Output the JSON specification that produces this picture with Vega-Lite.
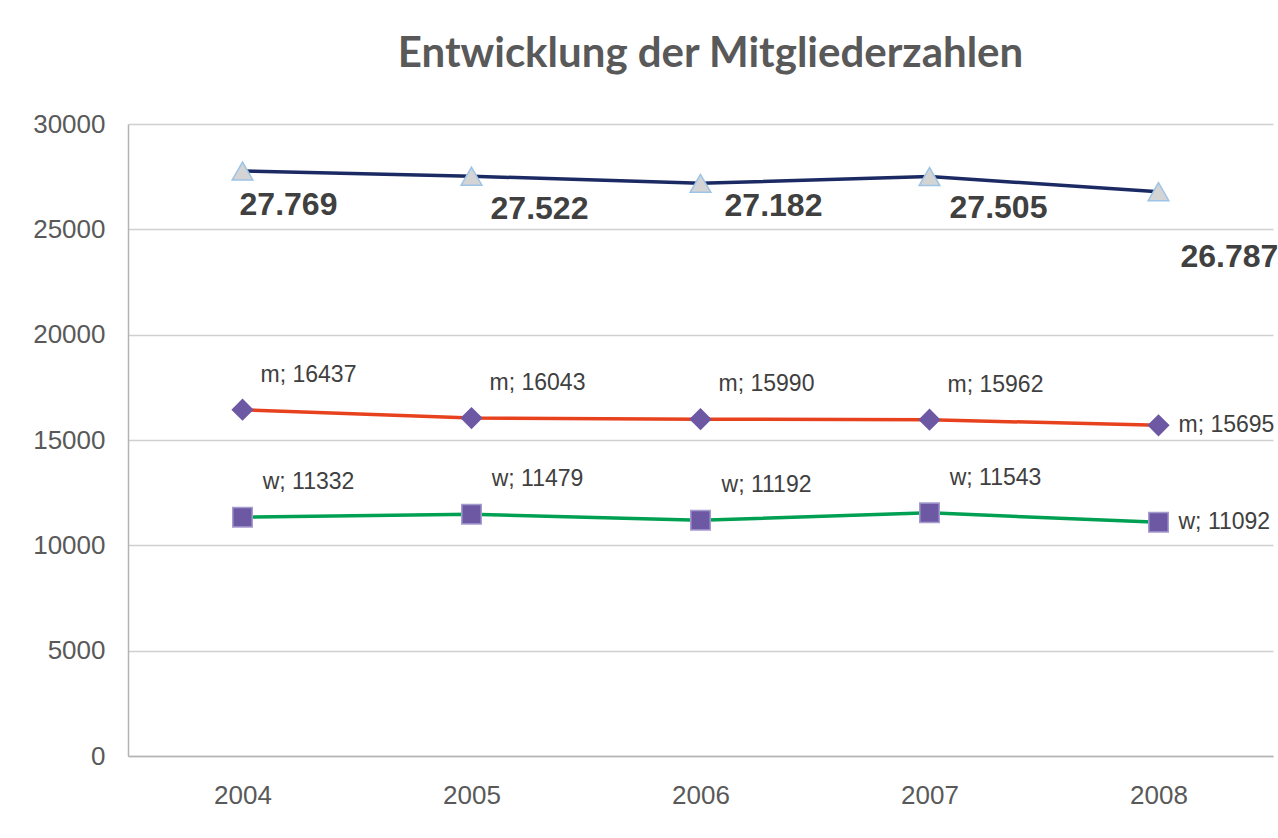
{
  "$schema": "https://vega.github.io/schema/vega-lite/v6.json",
  "autosize": {"type": "none"},
  "width": 1145,
  "height": 632,
  "padding": {"left": 128, "top": 124, "right": 5, "bottom": 82},
  "background": "#ffffff",
  "config": {
    "locale": {"number": {"decimal": ",", "thousands": ".", "grouping": [3], "currency": ["", " €"]}},
    "view": {"stroke": null},
    "font": "Liberation Sans"
  },
  "title": {
    "text": "Entwicklung der Mitgliederzahlen",
    "font": "Lato",
    "fontWeight": "bold",
    "fontSize": 42,
    "color": "#595959",
    "anchor": "middle",
    "frame": "group",
    "baseline": "alphabetic",
    "offset": 57,
    "dx": 10,
    "dy": 55
  },
  "data": {
    "values": [
      {"year": "2004", "series": "gesamt", "value": 27769},
      {"year": "2005", "series": "gesamt", "value": 27522},
      {"year": "2006", "series": "gesamt", "value": 27182},
      {"year": "2007", "series": "gesamt", "value": 27505},
      {"year": "2008", "series": "gesamt", "value": 26787},
      {"year": "2004", "series": "m", "value": 16437},
      {"year": "2005", "series": "m", "value": 16043},
      {"year": "2006", "series": "m", "value": 15990},
      {"year": "2007", "series": "m", "value": 15962},
      {"year": "2008", "series": "m", "value": 15695},
      {"year": "2004", "series": "w", "value": 11332},
      {"year": "2005", "series": "w", "value": 11479},
      {"year": "2006", "series": "w", "value": 11192},
      {"year": "2007", "series": "w", "value": 11543},
      {"year": "2008", "series": "w", "value": 11092}
    ]
  },
  "encoding": {
    "x": {
      "field": "year", "type": "ordinal",
      "scale": {"type": "point", "padding": 0.5},
      "axis": {
        "title": null, "labelAngle": 0, "ticks": false, "grid": false,
        "domainColor": "#b3b3b3", "domainWidth": 1.5,
        "labelFont": "Liberation Sans", "labelFontSize": 26, "labelColor": "#595959",
        "labelPadding": 26
      }
    },
    "y": {
      "field": "value", "type": "quantitative",
      "scale": {"domain": [0, 30000], "nice": false},
      "axis": {
        "title": null, "values": [0, 5000, 10000, 15000, 20000, 25000, 30000],
        "format": "d", "ticks": false,
        "domainColor": "#b3b3b3", "domainWidth": 1.5,
        "gridColor": "#d0d0d0", "gridWidth": 1.5,
        "labelFont": "Liberation Sans", "labelFontSize": 26, "labelColor": "#595959",
        "labelPadding": 23
      }
    }
  },
  "layer": [
    {
      "mark": {"type": "line", "strokeWidth": 3.5},
      "encoding": {
        "color": {
          "field": "series", "type": "nominal", "legend": null,
          "scale": {"domain": ["gesamt", "m", "w"], "range": ["#1b2a63", "#e8411d", "#00a052"]}
        }
      }
    },
    {
      "mark": {"type": "point", "filled": true, "opacity": 1, "strokeWidth": 1.5},
      "encoding": {
        "shape": {
          "field": "series", "type": "nominal", "legend": null,
          "scale": {"domain": ["gesamt", "m", "w"], "range": ["triangle-up", "diamond", "square"]}
        },
        "fill": {
          "field": "series", "type": "nominal", "legend": null,
          "scale": {"domain": ["gesamt", "m", "w"], "range": ["#d4d4d4", "#6d58a4", "#6d58a4"]}
        },
        "stroke": {
          "field": "series", "type": "nominal", "legend": null,
          "scale": {"domain": ["gesamt", "m", "w"], "range": ["#9dc3e6", "#6d58a4", "#a69bcf"]}
        },
        "size": {
          "field": "series", "type": "nominal", "legend": null,
          "scale": {"domain": ["gesamt", "m", "w"], "range": [430, 380, 420]}
        }
      }
    },
    {
      "transform": [{"filter": "datum.series == 'gesamt' && datum.year == '2004'"}],
      "mark": {"type": "text", "font": "Liberation Sans", "fontWeight": "bold", "fontSize": 32, "color": "#404040", "align": "center", "baseline": "middle", "dx": 46, "dy": 34},
      "encoding": {"text": {"field": "value", "type": "quantitative", "format": ",d"}}
    },
    {
      "transform": [{"filter": "datum.series == 'gesamt' && datum.year == '2005'"}],
      "mark": {"type": "text", "font": "Liberation Sans", "fontWeight": "bold", "fontSize": 32, "color": "#404040", "align": "center", "baseline": "middle", "dx": 68, "dy": 33},
      "encoding": {"text": {"field": "value", "type": "quantitative", "format": ",d"}}
    },
    {
      "transform": [{"filter": "datum.series == 'gesamt' && datum.year == '2006'"}],
      "mark": {"type": "text", "font": "Liberation Sans", "fontWeight": "bold", "fontSize": 32, "color": "#404040", "align": "center", "baseline": "middle", "dx": 73, "dy": 23},
      "encoding": {"text": {"field": "value", "type": "quantitative", "format": ",d"}}
    },
    {
      "transform": [{"filter": "datum.series == 'gesamt' && datum.year == '2007'"}],
      "mark": {"type": "text", "font": "Liberation Sans", "fontWeight": "bold", "fontSize": 32, "color": "#404040", "align": "center", "baseline": "middle", "dx": 69, "dy": 31},
      "encoding": {"text": {"field": "value", "type": "quantitative", "format": ",d"}}
    },
    {
      "transform": [{"filter": "datum.series == 'gesamt' && datum.year == '2008'"}],
      "mark": {"type": "text", "font": "Liberation Sans", "fontWeight": "bold", "fontSize": 32, "color": "#404040", "align": "left", "baseline": "middle", "dx": 22, "dy": 65},
      "encoding": {"text": {"field": "value", "type": "quantitative", "format": ",d"}}
    },
    {
      "transform": [
        {"filter": "datum.series != 'gesamt' && datum.year != '2008'"},
        {"calculate": "datum.series + '; ' + datum.value", "as": "label"}
      ],
      "mark": {"type": "text", "font": "Liberation Sans", "fontSize": 23, "color": "#404040", "align": "center", "baseline": "middle", "dx": 66, "dy": -35},
      "encoding": {"text": {"field": "label", "type": "nominal"}}
    },
    {
      "transform": [
        {"filter": "datum.series != 'gesamt' && datum.year == '2008'"},
        {"calculate": "datum.series + '; ' + datum.value", "as": "label"}
      ],
      "mark": {"type": "text", "font": "Liberation Sans", "fontSize": 23, "color": "#404040", "align": "left", "baseline": "middle", "dx": 20, "dy": 0},
      "encoding": {"text": {"field": "label", "type": "nominal"}}
    }
  ]
}
